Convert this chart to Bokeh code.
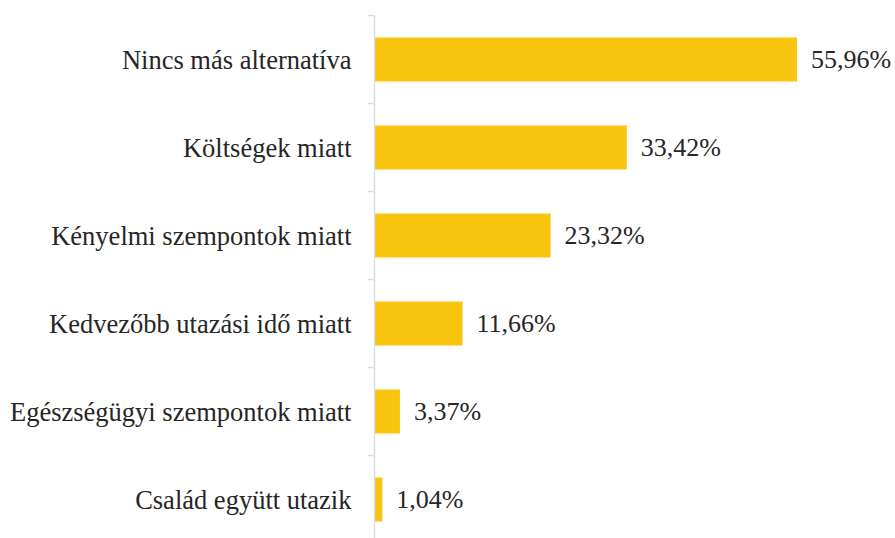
from bokeh.plotting import figure
from bokeh.models import ColumnDataSource, LabelSet, Range1d, FixedTicker
from bokeh.embed import file_html
from bokeh.resources import INLINE

categories = [
    "Nincs más alternatíva",
    "Költségek miatt",
    "Kényelmi szempontok miatt",
    "Kedvezőbb utazási idő miatt",
    "Egészségügyi szempontok miatt",
    "Család együtt utazik",
]
values = [55.96, 33.42, 23.32, 11.66, 3.37, 1.04]

n = len(categories)
ys = [n - i - 0.5 for i in range(n)]
labels = [f"{v:.2f}".replace(".", ",") + "%" for v in values]

src = ColumnDataSource(dict(y=ys, val=values, cat=categories, lab=labels))

W, H = 895, 538
border_left, border_top = 374, 15
frame_h = H - border_top
px_per_cat = 88
px_per_unit = 7.55
y_bottom = n - frame_h / px_per_cat
x_end = (W - border_left) / px_per_unit

p = figure(width=W, height=H, output_backend="svg", toolbar_location=None,
           x_range=Range1d(0, x_end), y_range=Range1d(y_bottom, n),
           min_border_left=border_left, min_border_right=0,
           min_border_top=border_top, min_border_bottom=0)
p.outline_line_color = None
p.grid.visible = False
p.xaxis.visible = False
p.background_fill_color = "white"

p.hbar(y="y", right="val", left=0, height=0.5, source=src,
       fill_color="#F9C50F", line_color=None)

font = "Liberation Serif"
ax = p.yaxis[0]
ax.ticker = FixedTicker(ticks=ys, minor_ticks=list(range(0, n + 1)))
ax.major_label_overrides = {y: c for y, c in zip(ys, categories)}
ax.axis_line_color = "#D9DDE5"
ax.axis_line_width = 1.5
ax.major_tick_line_color = None
ax.minor_tick_line_color = "#D9DDE5"
ax.minor_tick_line_width = 1.5
ax.minor_tick_out = 7
ax.minor_tick_in = 0
ax.major_label_standoff = 16
ax.major_label_text_font = font
ax.major_label_text_font_size = "26.5px"
ax.major_label_text_font_style = "normal"
ax.major_label_text_color = "#262626"

val_labels = LabelSet(x="val", y="y", text="lab", source=src, x_offset=14,
                      text_align="left", text_baseline="middle",
                      text_font=font, text_font_size="26px", text_color="#262626")
p.add_layout(val_labels)

open("out.html", "w").write(file_html(p, INLINE))
